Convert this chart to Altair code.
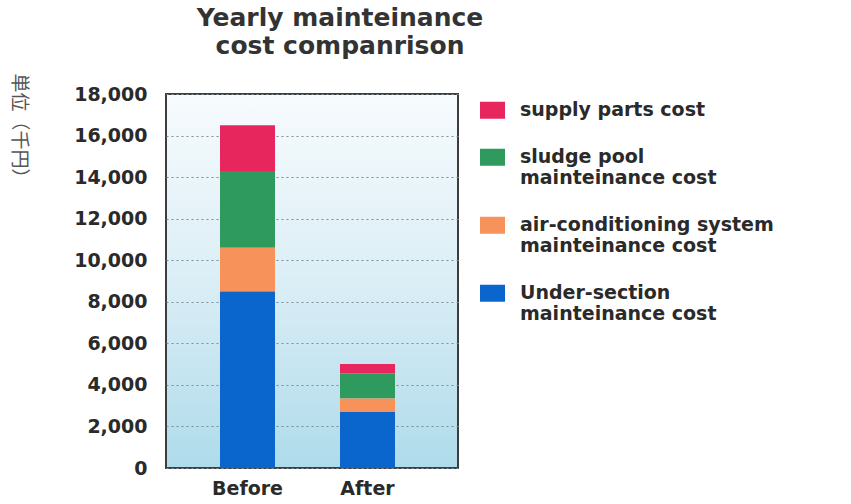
import altair as alt
import pandas as pd

groups = ["Before", "After"]
categories = [
    "supply parts cost",
    "sludge pool|mainteinance cost",
    "air-conditioning system|mainteinance cost",
    "Under-section|mainteinance cost",
]
colors = ["#e8265e", "#2e9a5e", "#f7935a", "#0a66cc"]
before_values = [2200, 3700, 2100, 8500]
after_values = [450, 1200, 650, 2700]
y_ticks = [0, 2000, 4000, 6000, 8000, 10000, 12000, 14000, 16000, 18000]

rows = []
for g, vals in zip(groups, [before_values, after_values]):
    for i, (c, v) in enumerate(zip(categories, vals)):
        rows.append({"group": g, "category": c, "value": v, "stack_pos": len(categories) - 1 - i})
df = pd.DataFrame(rows)

FONT = "DejaVu Sans"

bars = alt.Chart(df).mark_bar(size=55).encode(
    x=alt.X(
        "group:N",
        sort=groups,
        title=None,
        scale=alt.Scale(paddingInner=0.5417, paddingOuter=0.4875, align=0.4615),
        axis=alt.Axis(
            labelAngle=0, ticks=False, domain=False, grid=False,
            labelFont=FONT, labelFontWeight="bold", labelFontSize=19,
            labelColor="#2a2a2a", labelPadding=11,
        ),
    ),
    y=alt.Y(
        "value:Q",
        stack="zero",
        scale=alt.Scale(domain=[0, 18000], nice=False),
        axis=alt.Axis(
            values=y_ticks, format=",.0f", ticks=False, domain=False,
            grid=True, gridDash=[2, 3], gridColor="#7b8e99", gridWidth=1,
            labelFont=FONT, labelFontWeight="bold", labelFontSize=19,
            labelColor="#2a2a2a", labelPadding=19,
            title="単位（千円）", titleAngle=90, titleAlign="left",
            titleBaseline="middle", titleX=-148, titleY=-21,
            titleFont="Noto Sans CJK JP", titleFontSize=19,
            titleFontWeight="normal", titleColor="#555555",
        ),
    ),
    color=alt.Color(
        "category:N",
        scale=alt.Scale(domain=categories, range=colors),
        legend=alt.Legend(
            title=None, orient="none", legendX=314, legendY=-6,
            symbolType="M-1,0.1H1V1.46H-1Z", symbolSize=625,
            symbolStrokeWidth=0, symbolOpacity=1,
            labelExpr="split(datum.label, '|')",
            labelFont=FONT, labelFontWeight="bold", labelFontSize=19,
            labelColor="#2a2a2a", labelLimit=0, labelBaseline="top",
            labelOffset=15, rowPadding=15, padding=0,
        ),
    ),
    order=alt.Order("stack_pos:Q"),
)

chart = bars.properties(
    width=292,
    height=374,
    autosize=alt.AutoSizeParams(type="none"),
    padding={"left": 166, "top": 94, "right": 393, "bottom": 36},
    title=alt.TitleParams(
        text=["Yearly mainteinance", "cost companrison"],
        font=FONT, fontWeight="bold", fontSize=25, color="#333333",
        anchor="middle", frame="group", dx=28, offset=14, lineHeight=28,
    ),
).configure_view(
    stroke="#3d3d3d",
    strokeWidth=2,
    fill=alt.ExprRef(expr="{gradient: 'linear', x1: 0, y1: 0, x2: 0, y2: 1, stops: [{offset: 0, color: '#f7fbfd'}, {offset: 0.5, color: '#dbeef6'}, {offset: 1, color: '#aedbea'}]}"),
)

chart.save("out.html", embed_options={"renderer": "svg", "actions": False})
